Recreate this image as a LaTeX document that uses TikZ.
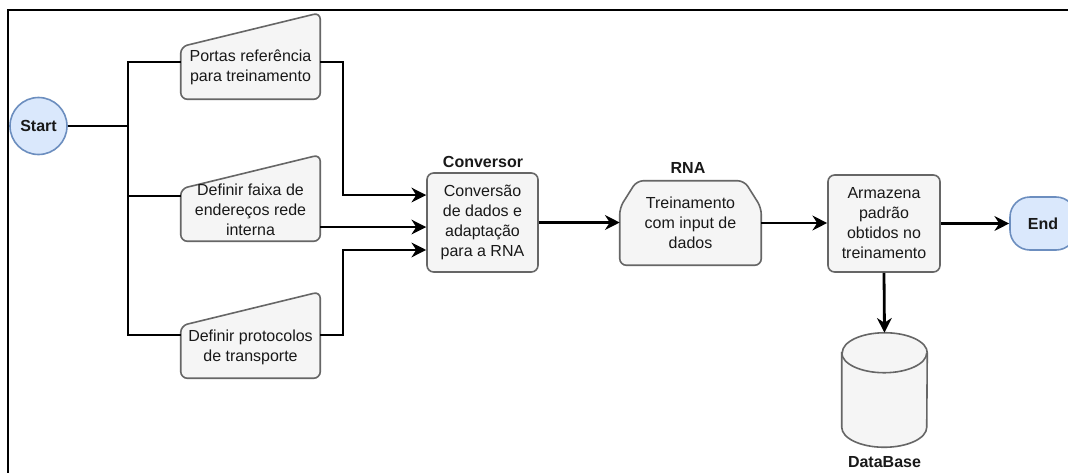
\documentclass[tikz,border=0pt]{standalone}
\usepackage{fontspec}
\setmainfont{Liberation Sans}
\usetikzlibrary{arrows.meta,backgrounds}
\definecolor{boxfill}{HTML}{F5F5F5}
\definecolor{boxline}{HTML}{666666}
\definecolor{termfill}{HTML}{DAE8FC}
\definecolor{termline}{HTML}{6C8EBF}
\tikzset{
  txt/.style={font=\fontsize{12}{15}\selectfont, align=center, inner sep=0pt, text=black!90},
  lbl/.style={font=\bfseries\fontsize{12}{15}\selectfont, inner sep=0pt, text=black!90},
  box/.style={txt, draw=boxline, fill=boxfill, line width=1.2pt, rounded corners=5pt},
  outline/.style={draw=boxline, fill=boxfill, line width=1.2pt, rounded corners=5pt},
  hold/.style={inner sep=0pt, draw=none},
  term/.style={lbl, draw=termline, fill=termfill, line width=1.2pt},
  conn/.style={line width=2.1pt, line join=miter},
  arr/.style={conn, -{Stealth[length=11pt, width=11pt, inset=3.5pt]}},
}
\begin{document}
\begin{tikzpicture}[x=0.75pt, y=-0.75pt]
\useasboundingbox (0,0) rectangle (1068,472);

% start terminal
\node[term, circle, minimum size=42.75pt] (start) at (38.5,126) {Start};

% manual input steps
\node[hold, minimum width=104.25pt, minimum height=64.5pt] (p1) at (250.5,56) {};
\node[txt] (p1t) at ([yshift=-8.6pt]p1.center) {Portas referência\\para treinamento};
\node[hold, minimum width=104.25pt, minimum height=64.5pt] (p2) at (250.5,198) {};
\node[txt] (p2t) at ([yshift=-9pt]p2.center) {Definir faixa de\\endereços rede\\interna};
\node[hold, minimum width=104.25pt, minimum height=64.5pt] (p3) at (250.5,335) {};
\node[txt] (p3t) at ([yshift=-9pt]p3.center) {Definir protocolos\\de transporte};

% converter
\node[box, minimum width=83.25pt, minimum height=74.25pt] (conv) at (482.5,222.5)
  {Conversão\\de dados e\\adaptação\\para a RNA};
\node[lbl] (convl) at (483,162) {Conversor};

% neural network (loop limit shape)
\node[txt, hold, minimum width=105.75pt, minimum height=63pt] (rna) at (690.5,223)
  {Treinamento\\com input de\\dados};
\node[lbl] (rnal) at (688,168) {RNA};

% storage step
\node[box, minimum width=84pt, minimum height=72.75pt] (arm) at (884,223.5)
  {Armazena\\padrão\\obtidos no\\treinamento};

% database
\node[hold, minimum width=63.75pt, minimum height=85.5pt] (db) at (884.5,390) {};
\node[lbl] (dbl) at (884.5,462) {DataBase};

% shape outlines behind the text
\begin{scope}[on background layer]
  \fill[white] (0,0) rectangle (1068,472);
  \foreach \n in {p1,p2,p3}
    \path[outline] ([yshift=-25.5pt]\n.north west) -- (\n.north east)
      -- (\n.south east) -- (\n.south west) -- cycle;
  \path[outline] (rna.south west) -- ([yshift=-20.25pt]rna.north west)
    -- ([xshift=12.75pt]rna.north west) -- ([xshift=-12.75pt]rna.north east)
    -- ([yshift=-20.25pt]rna.north east) -- (rna.south east) -- cycle;
  \path[draw=boxline, fill=boxfill, line width=1.2pt]
    ([yshift=-15pt]db.north west) -- ([yshift=15pt]db.south west)
    arc[start angle=180, end angle=0, x radius=42.5, y radius=20]
    -- ([yshift=-15pt]db.north east)
    arc[start angle=0, end angle=-180, x radius=42.5, y radius=20] -- cycle;
  \draw[boxline, line width=1.2pt] ([yshift=-15pt]db.north west)
    arc[start angle=180, end angle=0, x radius=42.5, y radius=20];
\end{scope}

% connectors
\coordinate (j) at (128,126);
\coordinate (bx) at (343,222);
\coordinate (p1in) at ([yshift=-4.5pt]p1.west);
\coordinate (p1out) at ([yshift=-4.5pt]p1.east);
\coordinate (p2in) at ([yshift=1.5pt]p2.west);
\coordinate (c1) at ([yshift=20.6pt]conv.west);
\coordinate (c2) at ([yshift=-3.4pt]conv.west);
\coordinate (c3) at ([yshift=-20.6pt]conv.west);

\draw[conn] (start) -- (j);
\draw[conn] (p1in) -| (j) |- (p3.west);
\draw[conn] (j |- p2in) -- (p2in);
\draw[arr] (p1out) -| (bx |- c1) -- (c1);
\draw[arr] (c2 -| p2.east) -- (c2);
\draw[arr] (p3.east) -| (bx |- c3) -- (c3);
\draw[arr] (conv.east) -- (conv.east -| rna.west);
\draw[arr] (rna.east) -- (rna.east -| arm.west);
\draw[arr] (arm.south) -- (db.north);

% end terminal and frame, cut at the page edge
\begin{scope}
  \clip (0,0) rectangle (1068,472);
  \node[term, rounded corners=15pt, minimum width=49.5pt, minimum height=39.75pt] (endn) at (1043,223.5) {End};
  \draw[line width=1.5pt] (8,480) -- (8,10) -- (1080,10);
\end{scope}
\draw[arr] (arm.east) -- (arm.east -| endn.west);
\end{tikzpicture}
\end{document}
